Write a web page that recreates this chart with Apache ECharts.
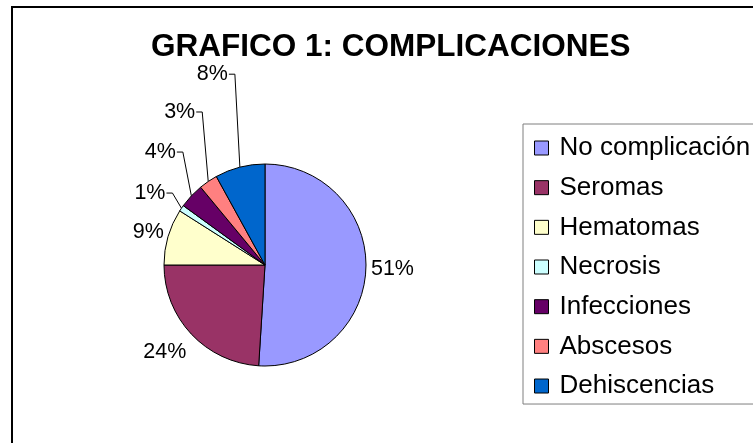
<!DOCTYPE html>
<html>
<head>
<meta charset="utf-8">
<script src="https://cdn.jsdelivr.net/npm/echarts@6/dist/echarts.min.js"></script>
<style>
html,body{margin:0;padding:0;background:#fff;}
#chart{width:753px;height:443px;}
</style>
</head>
<body>
<div id="chart"></div>
<script>
var categories = ['No complicación', 'Seromas', 'Hematomas', 'Necrosis', 'Infecciones', 'Abscesos', 'Dehiscencias'];
var percents = [51, 24, 9, 1, 4, 3, 8];
var colors = ['#9999FF', '#993366', '#FFFFCC', '#CCFFFF', '#660066', '#FF8080', '#0066CC'];

// leader line settings (0 = label sits next to slice, no line)
var leaderLen = [0, 0, 0, 27, 64, 84, 96];
var leaderLean = [0, 0, 0, 9, 8.5, 6, 5];
var labelGap = [5, 15, 5, 0, 0, 0, 0];

var font = 'Liberation Sans, Arial, sans-serif';

var myChart = echarts.init(document.getElementById('chart'));

var option = {
  animation: false,
  backgroundColor: '#fff',
  title: {
    text: 'GRAFICO 1: COMPLICACIONES',
    left: 151,
    top: 31,
    padding: 0,
    textStyle: {
      color: '#000',
      fontFamily: font,
      fontWeight: 'bold',
      fontSize: 31.5
    }
  },
  graphic: [{
    type: 'rect',
    shape: {x: 12, y: 7, width: 800, height: 500},
    style: {fill: 'none', stroke: '#000', lineWidth: 2},
    silent: true
  }],
  legend: {
    orient: 'vertical',
    left: 523,
    top: 124,
    padding: [11, 30, 5, 11],
    itemGap: 13.67,
    itemWidth: 14,
    itemHeight: 14,
    icon: 'rect',
    borderColor: '#7f7f7f',
    borderWidth: 1,
    itemStyle: {borderColor: '#000', borderWidth: 1},
    textStyle: {
      color: '#000',
      fontFamily: font,
      fontSize: 26,
      lineHeight: 26,
      padding: [0, 0, 0, 6]
    },
    data: categories
  },
  series: [{
    type: 'pie',
    center: [265, 265],
    radius: 101,
    startAngle: 90,
    clockwise: true,
    avoidLabelOverlap: false,
    color: colors,
    itemStyle: {borderColor: '#000', borderWidth: 1},
    label: {
      show: true,
      position: 'outside',
      formatter: '{c}%',
      color: '#000',
      fontFamily: font,
      fontSize: 21.5
    },
    labelLine: {
      show: true,
      lineStyle: {color: '#000', width: 1}
    },
    labelLayout: function (p) {
      var pts = p.labelLinePoints;
      if (!pts) return {};
      var i = p.dataIndex;
      var a = pts[0], b = pts[1];
      if (leaderLen[i] === 0) {
        var dx = b[0] - a[0], dy = b[1] - a[1];
        var n = Math.sqrt(dx * dx + dy * dy) || 1;
        dx /= n; dy /= n;
        var w = p.labelRect.width, h = p.labelRect.height, g = labelGap[i];
        return {
          x: a[0] + dx * g + dx * w / 2,
          y: a[1] + dy * g + dy * h / 2,
          align: 'center',
          verticalAlign: 'middle',
          labelLinePoints: [a, a, a]
        };
      }
      var topX = a[0] - leaderLean[i];
      return {
        x: topX - 7,
        y: b[1],
        align: 'right',
        verticalAlign: 'middle',
        labelLinePoints: [a, [topX, b[1]], [topX - 6, b[1]]]
      };
    },
    emphasis: {disabled: true},
    data: categories.map(function (name, i) {
      var noLine = leaderLen[i] === 0;
      return {
        name: name,
        value: percents[i],
        labelLine: {
          length: noLine ? 6 : leaderLen[i],
          length2: noLine ? 0 : 6,
          lineStyle: {opacity: noLine ? 0 : 1}
        }
      };
    })
  }]
};

myChart.setOption(option);
window.addEventListener("resize", function () {
  myChart.resize();
});
</script>
</body>
</html>
